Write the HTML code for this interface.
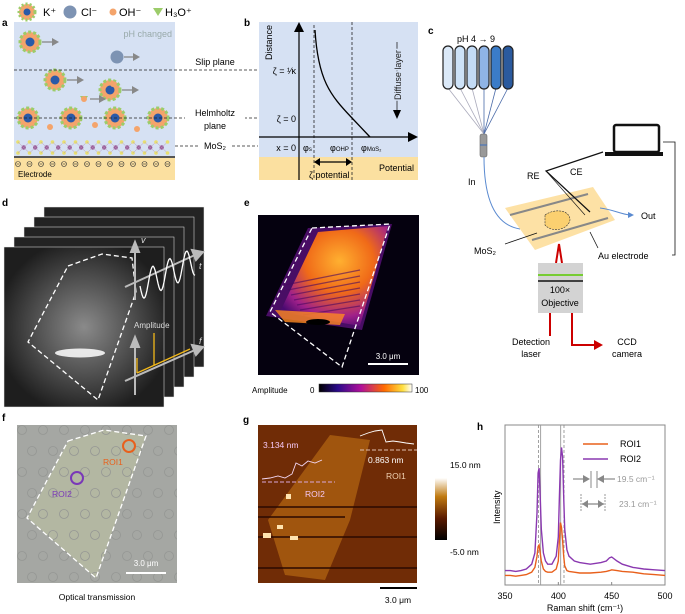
<!DOCTYPE html>
<html><head><meta charset="utf-8"><style>
html,body{margin:0;padding:0;background:#fff}
svg{display:block;font-family:"Liberation Sans",Arial,sans-serif}
</style></head><body>
<svg id="fig" width="685" height="614" viewBox="0 0 685 614" xmlns="http://www.w3.org/2000/svg">
<defs>
<linearGradient id="fire" x1="0" x2="1"><stop offset="0" stop-color="#000"/><stop offset="0.2" stop-color="#2a0a8a"/><stop offset="0.45" stop-color="#b0109a"/><stop offset="0.7" stop-color="#ff6a00"/><stop offset="0.9" stop-color="#ffe040"/><stop offset="1" stop-color="#fff"/></linearGradient>
<linearGradient id="afm" x1="0" y1="1" x2="0" y2="0"><stop offset="0" stop-color="#000"/><stop offset="0.35" stop-color="#5a1a00"/><stop offset="0.7" stop-color="#c07a10"/><stop offset="1" stop-color="#fff"/></linearGradient>
<radialGradient id="glow" cx="0.5" cy="0.5" r="0.55"><stop offset="0" stop-color="#8a8a8a"/><stop offset="0.6" stop-color="#4a4a4a"/><stop offset="1" stop-color="#1e1e1e"/></radialGradient>
<radialGradient id="ebl" cx="0.55" cy="0.35" r="0.7"><stop offset="0" stop-color="#ffb030"/><stop offset="0.45" stop-color="#f06a18"/><stop offset="0.8" stop-color="#a0208a"/><stop offset="1" stop-color="#4a0a70"/></radialGradient>
<clipPath id="fclip"><rect x="17" y="425" width="160" height="158"/></clipPath>
</defs>

<!-- Panel a -->
<g>
<text x="2" y="26" font-size="10" font-weight="bold">a</text>
<g font-size="11">
<circle cx="27" cy="12" r="8" fill="#f4a46b" stroke="#9ccc6a" stroke-width="3" stroke-dasharray="2 2"/><circle cx="27" cy="12" r="3.5" fill="#2a5aa8"/>
<text x="43" y="16">K⁺</text>
<circle cx="70" cy="12" r="6.5" fill="#7d93b3"/><text x="81" y="16">Cl⁻</text>
<circle cx="113" cy="12" r="3.5" fill="#f4a46b"/><text x="119" y="16">OH⁻</text>
<path d="M153 8 L163 8 L158 16 Z" fill="#9ccc6a"/><text x="165" y="16">H₃O⁺</text>
</g>
<rect x="14" y="22" width="161" height="135" fill="#d6e1f3"/>
<rect x="14" y="157" width="161" height="23" fill="#fbe0a0"/>
<line x1="14" y1="157" x2="175" y2="157" stroke="#555" stroke-width="2"/>
<text x="172" y="37" font-size="9" fill="#9aa" text-anchor="end">pH changed</text>
<text x="18" y="177" font-size="8">Electrode</text>
<g id="minus" fill="none" stroke="#333" stroke-width="0.6"></g>
<g id="mos2"></g>
<g id="kions"></g>
<circle cx="117" cy="57" r="6.5" fill="#7d93b3"/>
<line x1="124" y1="57" x2="133" y2="57" stroke="#888" stroke-width="1.3"/><path d="M133 53 L140 57 L133 61Z" fill="#888"/>
<circle cx="113" cy="84" r="3" fill="#f4a46b"/><circle cx="95" cy="125" r="3" fill="#f4a46b"/>
<path d="M80 96 L88 96 L84 102Z" fill="#9ccc6a"/><circle cx="84" cy="99" r="3" fill="#f4a46b"/>
<line x1="90" y1="99" x2="99" y2="99" stroke="#888" stroke-width="1.3"/><path d="M99 95 L106 99 L99 103Z" fill="#888"/>
<circle cx="50" cy="127" r="3" fill="#f4a46b"/><circle cx="137" cy="129" r="3" fill="#f4a46b"/>
<g stroke="#222" stroke-width="0.8" stroke-dasharray="3 2">
<line x1="14" y1="70" x2="418" y2="70"/><line x1="14" y1="118" x2="418" y2="118"/>
<line x1="175" y1="146" x2="198" y2="146"/><line x1="232" y1="146" x2="258" y2="146"/>
</g>
<rect x="185" y="55" width="60" height="12" fill="#fff"/>
<text x="215" y="65" font-size="9" text-anchor="middle">Slip plane</text>
<rect x="185" y="107" width="60" height="24" fill="#fff"/>
<text x="215" y="116" font-size="9" text-anchor="middle">Helmholtz</text>
<text x="215" y="129" font-size="9" text-anchor="middle">plane</text>
<text x="215" y="149" font-size="9" text-anchor="middle">MoS₂</text>
</g>

<!-- Panel b -->
<g>
<text x="244" y="26" font-size="10" font-weight="bold">b</text>
<rect x="259" y="22" width="159" height="135" fill="#d6e1f3"/>
<rect x="259" y="157" width="159" height="23" fill="#fbe0a0"/>
<g stroke="#222" stroke-width="0.8" stroke-dasharray="3 2"><line x1="314" y1="25" x2="314" y2="180"/><line x1="352" y1="22" x2="352" y2="180"/></g>
<line x1="299" y1="180" x2="299" y2="30" stroke="#000" stroke-width="1.2"/><path d="M294 32 L299 22 L304 32Z"/>
<line x1="259" y1="137" x2="410" y2="137" stroke="#000" stroke-width="1.2"/><path d="M408 132 L418 137 L408 142Z"/>
<path d="M315 30 C318 80 330 95 352 118 L370 137" fill="none" stroke="#000" stroke-width="1.3"/>
<line x1="397" y1="42" x2="397" y2="112" stroke="#222" stroke-width="0.8"/><path d="M393 110 L397 119 L401 110Z"/>
<text transform="translate(401,100) rotate(-90)" font-size="9" fill="#222" style="paint-order:stroke" stroke="#d6e1f3" stroke-width="3">Diffuse layer</text>
<text transform="translate(272,60) rotate(-90)" font-size="9">Distance</text>
<text x="296" y="74" font-size="9" text-anchor="end">ζ = ¹⁄κ</text>
<text x="296" y="122" font-size="9" text-anchor="end">ζ = 0</text>
<text x="296" y="151" font-size="9" text-anchor="end">x = 0</text>
<text x="303" y="151" font-size="9">φ<tspan font-size="6">s</tspan></text>
<text x="330" y="151" font-size="9">φ<tspan font-size="6">OHP</tspan></text>
<text x="361" y="151" font-size="9">φ<tspan font-size="6">MoS₂</tspan></text>
<text x="414" y="171" font-size="9" text-anchor="end">Potential</text>
<line x1="318" y1="162" x2="348" y2="162" stroke="#000" stroke-width="1.3"/><path d="M320 158 L314 162 L320 166Z"/><path d="M346 158 L352 162 L346 166Z"/>
<text x="309" y="178" font-size="9">ζ potential</text>
</g>

<!-- Panel c -->
<g font-size="9">
<text x="428" y="34" font-size="10" font-weight="bold">c</text>
<text x="457" y="42">pH 4 → 9</text>
<g id="tubes"></g>
<rect x="480" y="134" width="7" height="23" rx="2" fill="#999" stroke="#666" stroke-width="0.6"/>
<line x1="480" y1="145" x2="487" y2="145" stroke="#3a70c0"/>
<path d="M484 157 C484 200 495 225 520 229" fill="none" stroke="#5a8ad0" stroke-width="1"/>
<text x="468" y="185">In</text>
<rect x="614" y="125" width="45" height="27" rx="2" fill="#fff" stroke="#111" stroke-width="2.5"/>
<rect x="605" y="152" width="58" height="4" fill="#111"/>
<path d="M505 208 L593 187 L615 220 L535 250 Z" fill="#fcd98e" opacity="0.8"/>
<path d="M545 215 C555 208 570 210 570 220 C568 230 552 233 545 225Z" fill="#fbd070" stroke="#333" stroke-width="0.6" stroke-dasharray="2 1"/>
<line x1="510" y1="215" x2="588" y2="194" stroke="#888" stroke-width="2"/>
<line x1="532" y1="240" x2="608" y2="218" stroke="#888" stroke-width="2"/>
<path d="M603 152 L546 171 L590 212" fill="none" stroke="#111" stroke-width="1.2"/>
<path d="M546 171 L585 215" fill="none" stroke="#111" stroke-width="0.6"/>
<text x="527" y="179">RE</text><text x="570" y="175">CE</text>
<path d="M600 208 C615 210 620 214 630 215" fill="none" stroke="#5a8ad0"/><path d="M628 212 L634 215 L628 218Z" fill="#5a8ad0"/>
<text x="641" y="219">Out</text>
<line x1="537" y1="233" x2="505" y2="244" stroke="#111" stroke-width="0.8"/>
<text x="474" y="254">MoS₂</text>
<line x1="590" y1="232" x2="598" y2="248" stroke="#111" stroke-width="0.8"/>
<text x="598" y="259">Au electrode</text>
<path d="M663 142 L675 142 L675 255 L672 255" fill="none" stroke="#111" stroke-width="0.8"/>
<path d="M556 263 L559 244 L562 263" fill="none" stroke="#c00" stroke-width="2"/>
<rect x="538" y="263" width="45" height="50" fill="#d3d3d3"/>
<line x1="538" y1="275" x2="583" y2="275" stroke="#7c3" stroke-width="2"/><line x1="538" y1="281" x2="583" y2="281" stroke="#111" stroke-width="1.5"/>
<text x="560" y="293" text-anchor="middle">100×</text><text x="560" y="306" text-anchor="middle">Objective</text>
<line x1="550" y1="313" x2="550" y2="336" stroke="#c00" stroke-width="2"/>
<path d="M572 313 L572 345 L595 345" fill="none" stroke="#c00" stroke-width="2"/><path d="M594 340 L603 345 L594 350Z" fill="#c00"/>
<text x="531" y="345" text-anchor="middle">Detection</text><text x="531" y="357" text-anchor="middle">laser</text>
<text x="627" y="345" text-anchor="middle">CCD</text><text x="627" y="357" text-anchor="middle">camera</text>
</g>

<!-- Panel d -->
<g>
<text x="2" y="206" font-size="10" font-weight="bold">d</text>
<g id="frames"></g>
<path d="M68 266 L102 254 L132 258 L136 292 L98 400 L28 342 Z" fill="none" stroke="#fff" stroke-width="1.3" stroke-dasharray="5 3"/>
<ellipse cx="80" cy="353" rx="25" ry="4.5" fill="#fff" opacity="0.85"/>
<g stroke="#bbb" stroke-width="2" fill="#bbb">
<line x1="135" y1="300" x2="135" y2="250"/><path d="M131 252 L135 242 L139 252Z"/>
<line x1="125" y1="287" x2="195" y2="255"/><path d="M192 250 L203 252 L196 260Z"/>
<line x1="135" y1="395" x2="135" y2="345"/><path d="M131 347 L135 337 L139 347Z"/>
<line x1="125" y1="381" x2="195" y2="350"/><path d="M192 345 L203 347 L196 355Z"/>
</g>
<path id="wave" d="M140 285" fill="none" stroke="#fff" stroke-width="1.3"/>
<text x="141" y="243" font-size="9" fill="#ddd" font-style="italic">v</text>
<text x="199" y="269" font-size="9" fill="#ddd" font-style="italic">t</text>
<text x="134" y="328" font-size="8" fill="#ddd">Amplitude</text>
<text x="199" y="344" font-size="9" fill="#ddd" font-style="italic">f</text>
<path d="M137 373 L137 358 M137 373 L190 349 M154 365 L154 333" fill="none" stroke="#f2b81a" stroke-width="1.3"/>
</g>

<!-- Panel e -->
<g>
<text x="244" y="206" font-size="10" font-weight="bold">e</text>
<rect x="258" y="215" width="161" height="160" fill="#05010f"/>
<path d="M308 228 L392 224 L362 330 L266 316 Z" fill="#5a107a" opacity="0.8"/>
<path d="M318 232 L388 226 L360 326 L280 312 Z" fill="url(#ebl)"/>
<g id="estripes"></g>
<ellipse cx="318" cy="322" rx="12" ry="3" fill="#000"/>
<path d="M312 228 L390 224 L342 367 L270 312 Z" fill="none" stroke="#fff" stroke-width="1.3" stroke-dasharray="5 3"/>
<line x1="368" y1="364" x2="408" y2="364" stroke="#fff" stroke-width="2"/>
<text x="388" y="359" font-size="8" fill="#fff" text-anchor="middle">3.0 μm</text>
<text x="252" y="393" font-size="8">Amplitude</text><text x="310" y="393" font-size="8">0</text>
<rect x="319" y="384" width="93" height="8" fill="url(#fire)" stroke="#333" stroke-width="0.5"/>
<text x="415" y="393" font-size="8">100</text>
</g>

<!-- Panel f -->
<g>
<text x="2" y="421" font-size="10" font-weight="bold">f</text>
<rect x="17" y="425" width="160" height="158" fill="#a5a7a3"/>
<path d="M68 442 L104 430 L146 436 L96 578 L28 518 Z" fill="#b5b9a2" opacity="0.9"/>
<g id="fdots" fill="none" stroke="#959794" stroke-width="0.8" clip-path="url(#fclip)"></g>
<path d="M68 441 L104 430 L146 436 L96 578 L27 518 Z" fill="none" stroke="#fff" stroke-width="1.3" stroke-dasharray="5 3"/>
<circle cx="129" cy="446" r="6" fill="none" stroke="#e8601c" stroke-width="2"/>
<text x="103" y="465" font-size="8.5" fill="#e8601c">ROI1</text>
<circle cx="77" cy="478" r="6" fill="none" stroke="#7a38b8" stroke-width="2"/>
<text x="52" y="497" font-size="8.5" fill="#7a38b8">ROI2</text>
<line x1="126" y1="573" x2="166" y2="573" stroke="#fff" stroke-width="2"/>
<text x="146" y="566" font-size="8" fill="#fff" text-anchor="middle">3.0 μm</text>
<text x="97" y="600" font-size="8.5" text-anchor="middle">Optical transmission</text>
</g>

<!-- Panel g -->
<g>
<text x="243" y="423" font-size="10" font-weight="bold">g</text>
<rect x="258" y="425" width="159" height="158" fill="#702c06"/>
<path d="M268 520 L330 435 L370 440 L350 520 L325 580 L285 575 Z" fill="#a55a10" opacity="0.9"/>
<g stroke="#2a0a00" stroke-width="1.5"><line x1="258" y1="507" x2="417" y2="507"/><line x1="258" y1="537" x2="417" y2="537"/><line x1="258" y1="568" x2="417" y2="568"/><line x1="258" y1="517" x2="345" y2="517"/></g>
<g fill="#ffe4b0"><rect x="277" y="525" width="6" height="4"/><rect x="263" y="533" width="8" height="5"/><rect x="286" y="494" width="5" height="5"/><rect x="290" y="536" width="8" height="4"/></g>
<polyline points="262,479 270,478 278,476 285,478 292,474 296,463 302,466 308,461 315,463 322,460" fill="none" stroke="#f5d8f5" stroke-width="0.9"/>
<line x1="262" y1="482" x2="335" y2="482" stroke="#d9a8d9" stroke-dasharray="4 2"/>
<polyline points="360,436 368,433 375,431 382,430 386,442 393,441 400,442 406,443 414,444" fill="none" stroke="#fff" stroke-width="0.9"/>
<line x1="360" y1="450" x2="417" y2="450" stroke="#e0c0b0" stroke-dasharray="4 2"/>
<text x="263" y="448" font-size="8.5" fill="#f5c8f5">3.134 nm</text>
<text x="305" y="497" font-size="8.5" fill="#f5c8f5">ROI2</text>
<text x="368" y="463" font-size="8.5" fill="#fff">0.863 nm</text>
<text x="386" y="479" font-size="8.5" fill="#f0d0b0">ROI1</text>
<rect x="435" y="478" width="12" height="62" fill="url(#afm)"/>
<text x="450" y="468" font-size="8.5">15.0 nm</text>
<text x="450" y="555" font-size="8.5">-5.0 nm</text>
<line x1="380" y1="588" x2="417" y2="588" stroke="#000" stroke-width="2"/>
<text x="398" y="603" font-size="8.5" text-anchor="middle">3.0 μm</text>
</g>

<!-- Panel h -->
<g>
<text x="477" y="430" font-size="10" font-weight="bold">h</text>
<g id="hplot"></g>
</g>
</svg>
<script>
// ---- Panel h data ----
const ramanShift = [350,355,360,365,370,375,378,380,381,382,383,384,386,388,390,394,398,400,401,402,403,404,405,406,408,410,415,420,430,440,445,448,450,455,460,470,480,490,500];
const roi2Intensity = [9,9,8.5,9,10,13,20,45,70,73,55,35,20,15,13,13,18,30,55,78,86,80,55,35,22,18,15,14,13,14,15,17,17.5,15,13,11,10,9.5,9];
const roi1Intensity = [6,6,5.5,6,6.5,8,11,18,24,25,20,15,10,8.5,8,8,10,15,28,39,36,28,18,12,9,8.5,8,7.5,7.5,8,8.5,9,9.5,9,8.5,8,7,6.5,6];
const xTicks = [350,400,450,500];
const dashedPeaks = [381.3,405.3];
const solidPeaks = [383.4,402.2];

const NS='http://www.w3.org/2000/svg';
function mk(tag,attrs,parent){const e=document.createElementNS(NS,tag);for(const k in attrs)e.setAttribute(k,attrs[k]);parent.appendChild(e);return e;}
const X0=505,X1=665,Y0=585,Y1=425;
const xs=v=>X0+(v-350)/(500-350)*(X1-X0);
const ys=v=>Y0-v/100*(Y0-Y1);
const hp=document.getElementById('hplot');
const frame=mk('rect',{x:X0,y:Y1,width:X1-X0,height:Y0-Y1,fill:'none',stroke:'#888','stroke-width':1},hp);


dashedPeaks.forEach(v=>{const l=mk('line',{x1:xs(v),x2:xs(v),y1:Y1,y2:Y0,stroke:'#888','stroke-dasharray':'3 2','stroke-width':0.8},hp);

});
solidPeaks.forEach(v=>{const l=mk('line',{x1:xs(v),x2:xs(v),y1:Y1,y2:Y0,stroke:'#999','stroke-width':0.9},hp);

});
[[roi1Intensity,'#e8601c','roi1-line'],[roi2Intensity,'#8a38b0','roi2-line']].forEach(([d,c,n])=>{
 const pts=ramanShift.map((v,i)=>xs(v).toFixed(1)+','+ys(d[i]).toFixed(1)).join(' ');
 const p=mk('polyline',{points:pts,fill:'none',stroke:c,'stroke-width':1.4},hp);
 
 
});
xTicks.forEach(t=>{mk('line',{x1:xs(t),x2:xs(t),y1:Y0,y2:Y0-3,stroke:'#888'},hp);
 const tx=mk('text',{x:xs(t),y:Y0+14,'font-size':9,'text-anchor':'middle'},hp);tx.textContent=t;
 
 });
const xt=mk('text',{x:585,y:611,'font-size':9,'text-anchor':'middle'},hp);xt.textContent='Raman shift (cm⁻¹)';


const yt=mk('text',{transform:'translate(500,524) rotate(-90)','font-size':9},hp);yt.textContent='Intensity';


[['ROI1','#e8601c',444],['ROI2','#8a38b0',459]].forEach(([n,c,y])=>{
 const g=mk('g',{},hp);
 
 
 mk('line',{x1:583,x2:608,y1:y,y2:y,stroke:c,'stroke-width':1.5},g);
 const t=mk('text',{x:620,y:y+3,'font-size':9},g);t.textContent=n;});
mk('line',{x1:573,x2:585,y1:479,y2:479,stroke:'#888','stroke-width':1.2},hp);mk('path',{d:'M583 475 L590 479 L583 483Z',fill:'#888'},hp);
mk('line',{x1:602,x2:615,y1:479,y2:479,stroke:'#888','stroke-width':1.2},hp);mk('path',{d:'M604 475 L597 479 L604 483Z',fill:'#888'},hp);
mk('line',{x1:591,x2:591,y1:471,y2:488,stroke:'#888'},hp);mk('line',{x1:597,x2:597,y1:471,y2:488,stroke:'#888'},hp);
let a=mk('text',{x:617,y:482,'font-size':8.5,fill:'#999'},hp);a.textContent='19.5 cm⁻¹';
mk('line',{x1:582,x2:604,y1:504,y2:504,stroke:'#888','stroke-width':1.2},hp);
mk('path',{d:'M588 500 L582 504 L588 508Z M598 500 L604 504 L598 508Z',fill:'#888'},hp);
mk('line',{x1:581,x2:581,y1:494,y2:512,stroke:'#999','stroke-dasharray':'2 1'},hp);mk('line',{x1:605,x2:605,y1:494,y2:512,stroke:'#999','stroke-dasharray':'2 1'},hp);
a=mk('text',{x:619,y:507,'font-size':8.5,fill:'#999'},hp);a.textContent='23.1 cm⁻¹';

// decorative panel a
const kg=document.getElementById('kions');
[[30,42],[55,80],[110,90],[28,118],[71,118],[115,118],[158,118]].forEach(([x,y])=>{
 const g=mk('g',{},kg);
 
 
 mk('circle',{cx:x,cy:y,r:10,fill:'#f4a46b',stroke:'#9ccc6a','stroke-width':3,'stroke-dasharray':'3 2'},g);
 mk('circle',{cx:x,cy:y,r:4.5,fill:'#2a5aa8'},g);});
[[30,42],[55,80],[110,90]].forEach(([x,y])=>{mk('line',{x1:x+12,x2:x+22,y1:y,y2:y,stroke:'#888','stroke-width':1.3},kg);mk('path',{d:`M${x+22} ${y-4} L${x+29} ${y} L${x+22} ${y+4}Z`,fill:'#888'},kg);});
const mo=document.getElementById('mos2');
for(let i=0;i<14;i++){const x=18+i*11.5;mk('circle',{cx:x,cy:142,r:1.8,fill:'#e8e070'},mo);mk('circle',{cx:x,cy:153,r:1.8,fill:'#e8e070'},mo);
 if(i<13){mk('circle',{cx:x+5.7,cy:147.5,r:2.2,fill:'#9a5a9a'},mo);mk('path',{d:`M${x} 142 L${x+5.7} 147.5 L${x+11.5} 142 M${x} 153 L${x+5.7} 147.5 L${x+11.5} 153`,stroke:'#b89ab8','stroke-width':0.5,fill:'none'},mo);}
 const m=document.getElementById('minus');mk('circle',{cx:x,cy:164,r:2.5},m);mk('line',{x1:x-1.5,x2:x+1.5,y1:164,y2:164},m);}
// tubes
const tc=['#dbe9f8','#cde2f7','#c3dbf5','#8fb4e6','#3b7cc8','#2a5a9e'];const tb=document.getElementById('tubes');
tc.forEach((c,i)=>{const x=448+i*12;mk('line',{x1:x,y1:88,x2:484,y2:134,stroke:i<3?'#aab':'#4a6aa8','stroke-width':0.8},tb);
 mk('rect',{x:x-5,y:46,width:10,height:43,rx:5,fill:c,stroke:'#222','stroke-width':1.2},tb);});
// frames panel d
const fr=document.getElementById('frames');
for(let i=4;i>=0;i--){mk('rect',{x:4+i*10,y:247-i*10,width:160,height:160,fill:i==0?'url(#glow)':'#232323',stroke:'#eee','stroke-width':0.5},fr);}
let d='M140 286';for(let t=0;t<=55;t+=1){const x=140+t,y=286-t*0.45+Math.sin(t/55*Math.PI*6.5)*14;d+=` L${x} ${y.toFixed(1)}`;}
document.getElementById('wave').setAttribute('d',d);
// e stripes
const es=document.getElementById('estripes');
for(let i=0;i<7;i++){mk('line',{x1:285+i*3,y1:285+i*5,x2:360,y2:270+i*6,stroke:'#4a0860','stroke-width':1.2,opacity:0.6},es);}
mk('path',{d:'M275 310 L345 314 L340 325 L285 322Z',fill:'#ff8a20',opacity:0.8},es);
// f dots
const fd=document.getElementById('fdots');
for(let r=0;r<8;r++)for(let c=0;c<8;c++){mk('circle',{cx:22+c*21+(r%2)*10,cy:430+r*21,r:4.5},fd);}
</script>
</body></html>
